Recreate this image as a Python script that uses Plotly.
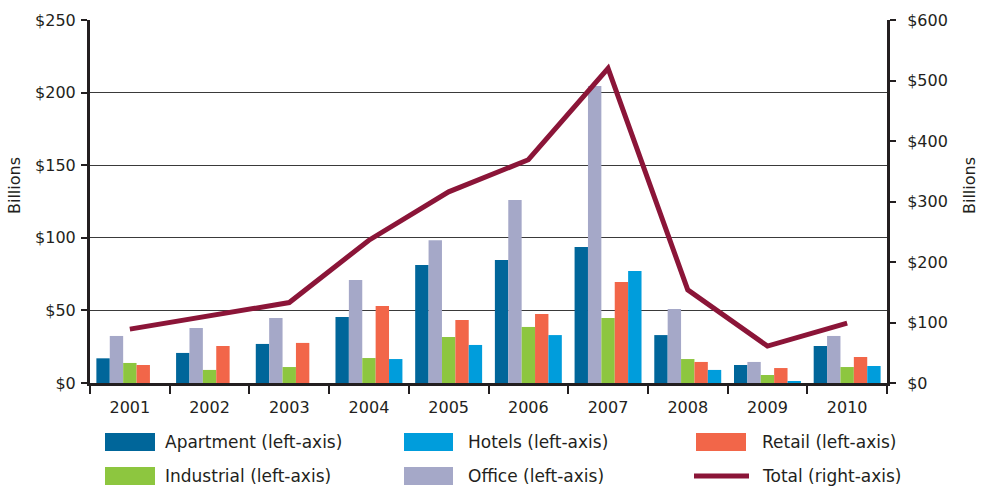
import plotly.graph_objects as go

years = ["2001", "2002", "2003", "2004", "2005", "2006", "2007", "2008", "2009", "2010"]
apartment = [17, 20.7, 26.9, 45.5, 81.3, 84.7, 93.7, 33, 12.4, 25.5]
office = [32.4, 37.9, 44.8, 71, 98.3, 126, 204.5, 51, 14.5, 32.4]
industrial = [13.8, 9, 11, 17.2, 31.7, 38.6, 44.8, 16.5, 5.5, 11]
retail = [12.4, 25.5, 27.6, 53, 43.4, 47.5, 69.6, 14.5, 10.3, 17.9]
hotels = [0, 0, 0, 16.5, 26.2, 33, 77.1, 9, 1.4, 11.7]
total = [89, 112, 133, 236, 316, 369, 520, 154, 61, 99]

left_ticks = [0, 50, 100, 150, 200, 250]
left_labels = ["$0", "$50", "$100", "$150", "$200", "$250"]
right_ticks = [0, 100, 200, 300, 400, 500, 600]
right_labels = ["$0", "$100", "$200", "$300", "$400", "$500", "$600"]

C_APT = "#00669a"
C_OFF = "#a5a8c8"
C_IND = "#8dc63f"
C_RET = "#f26649"
C_HOT = "#009ddc"
C_TOT = "#8b1538"
INK = "#231f20"
FONT = "DejaVu Sans"

W, H = 984, 487
L, R, T, B = 90, 97, 20, 104
PW, PH = W - L - R, H - T - B

fig = go.Figure()
for name, vals, col in [("Apartment (left-axis)", apartment, C_APT),
                        ("Office (left-axis)", office, C_OFF),
                        ("Industrial (left-axis)", industrial, C_IND),
                        ("Retail (left-axis)", retail, C_RET),
                        ("Hotels (left-axis)", hotels, C_HOT)]:
    fig.add_trace(go.Bar(x=years, y=vals, name=name, marker=dict(color=col, line=dict(width=0)),
                         yaxis="y"))
fig.add_trace(go.Scatter(x=years, y=total, name="Total (right-axis)", mode="lines",
                         line=dict(color=C_TOT, width=5), yaxis="y2"))


def px(x):
    return (x - L) / PW


def py(y):
    return (H - B - y) / PH


shapes = []
annos = []
legend_items = [
    ("Apartment (left-axis)", C_APT, "rect", 105, 155, 163, 433, 451),
    ("Hotels (left-axis)", C_HOT, "rect", 404, 453, 466, 433, 451),
    ("Retail (left-axis)", C_RET, "rect", 696, 746, 760, 433, 451),
    ("Industrial (left-axis)", C_IND, "rect", 105, 155, 163, 467, 485),
    ("Office (left-axis)", C_OFF, "rect", 404, 453, 466, 467, 485),
    ("Total (right-axis)", C_TOT, "line", 694, 749, 760, 467, 485),
]
for text, col, kind, x0, x1, tx, y0, y1 in legend_items:
    if kind == "rect":
        shapes.append(dict(type="rect", xref="paper", yref="paper", x0=px(x0), x1=px(x1),
                           y0=py(y1), y1=py(y0), fillcolor=col, line=dict(width=0), layer="above"))
    else:
        ym = (y0 + y1) / 2
        shapes.append(dict(type="line", xref="paper", yref="paper", x0=px(x0), x1=px(x1),
                           y0=py(ym), y1=py(ym), line=dict(color=col, width=5)))
    annos.append(dict(text=text, xref="paper", yref="paper", x=px(tx), y=py((y0 + y1) / 2),
                      xanchor="left", yanchor="middle", showarrow=False,
                      font=dict(family=FONT, size=17, color=INK)))

annos.append(dict(text="Billions", xref="paper", yref="paper", x=px(15), y=py(186),
                  textangle=-90, showarrow=False, xanchor="center", yanchor="middle",
                  font=dict(family=FONT, size=16, color=INK)))
annos.append(dict(text="Billions", xref="paper", yref="paper", x=px(970), y=py(186),
                  textangle=-90, showarrow=False, xanchor="center", yanchor="middle",
                  font=dict(family=FONT, size=16, color=INK)))

fig.update_layout(
    width=W, height=H,
    margin=dict(l=L, r=R, t=T, b=B),
    paper_bgcolor="white", plot_bgcolor="white",
    barmode="group", bargap=0.16, bargroupgap=0,
    showlegend=False,
    font=dict(family=FONT, size=16, color=INK),
    xaxis=dict(type="category", tickson="boundaries", ticks="outside", ticklen=8,
               tickwidth=2, tickcolor=INK, showline=True, linecolor=INK, linewidth=3,
               showgrid=False, tickfont=dict(size=16, color=INK), zeroline=False,
               ticklabelstandoff=8),
    yaxis=dict(range=[0, 250], tickvals=left_ticks, ticktext=left_labels, showline=True,
               linecolor=INK, linewidth=3, ticks="outside", ticklen=6, tickwidth=2,
               tickcolor=INK, showgrid=True, gridcolor="#3a3a3a", gridwidth=1,
               zeroline=False, tickfont=dict(size=16, color=INK), ticklabelstandoff=2),
    yaxis2=dict(range=[0, 600], tickvals=right_ticks, ticktext=right_labels, overlaying="y",
                side="right", showline=True, linecolor=INK, linewidth=3, ticks="outside",
                ticklen=6, tickwidth=2, tickcolor=INK, showgrid=False, zeroline=False,
                tickfont=dict(size=16, color=INK), ticklabelstandoff=8),
    shapes=shapes,
    annotations=annos,
)

fig.write_html("out.html", config={"displayModeBar": False},
               post_script="document.body.style.margin='0';document.body.style.overflow='hidden';")
